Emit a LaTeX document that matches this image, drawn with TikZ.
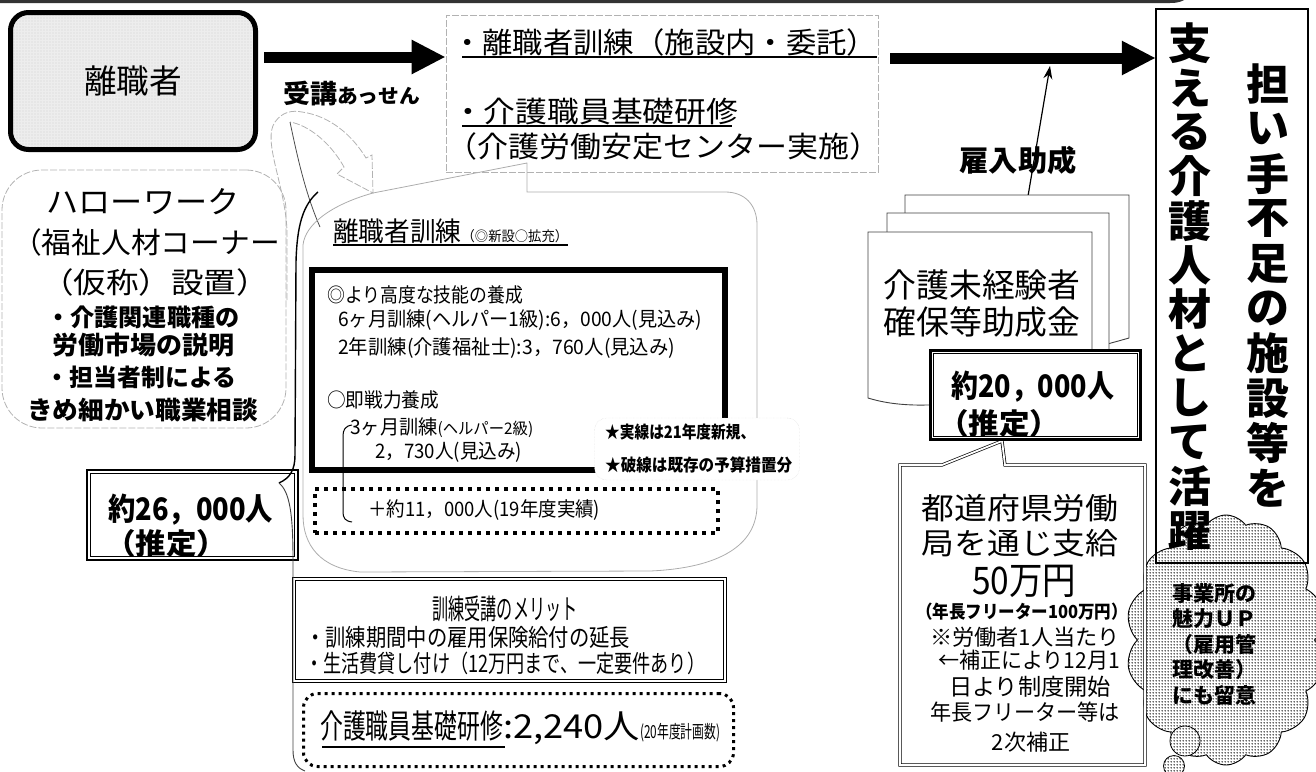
\documentclass[tikz,border=0pt]{standalone}
\usepackage{fontspec}
\usepackage{graphicx}
\newfontfamily\jp{Noto Sans CJK JP}
\usetikzlibrary{patterns,shapes.symbols,arrows.meta,calc}
\pgfdeclarepatternformonly{stip}{\pgfpointorigin}{\pgfpoint{3pt}{3pt}}{\pgfpoint{3pt}{3pt}}{%
  \pgfpathcircle{\pgfpoint{1.5pt}{1.5pt}}{1.0pt}\pgfusepath{fill}}
\pgfdeclarepatternformonly{finestip}{\pgfpointorigin}{\pgfpoint{2.5pt}{2.5pt}}{\pgfpoint{2.5pt}{2.5pt}}{%
  \pgfpathcircle{\pgfpoint{1.25pt}{1.25pt}}{0.45pt}\pgfusepath{fill}}
\newcommand\fitw[2]{\resizebox{#1pt}{\height}{#2}}
\newcommand\fsz[1]{\fontsize{#1pt}{#1pt}\selectfont}
\newcommand\innerframe[2]{\draw[line width=1.1pt] ($(#1.north west)+(#2,#2)$) rectangle ($(#1.south east)+(-#2,-#2)$);}
\newcommand\docshape[5]{\filldraw[fill=white,draw=black!75,line width=0.9pt]
  (#1,#3) -- (#2,#3) -- (#2,#5) .. controls ({#1+0.5*(#2-#1)},{#4+8}) and ({#1+0.2*(#2-#1)},{#4+14}) .. (#1,#4) -- cycle;}
\tikzset{
  jtxt/.style={inner sep=0pt, font=\jp},
  bigarrow/.style={-{Triangle[length=34pt,width=32pt]}, line width=11pt},
  faintline/.style={draw=gray!65, line width=0.8pt},
  dashline/.style={draw=gray!60, line width=0.8pt, dash pattern=on 7pt off 2pt},
  stipple/.style={preaction={fill=white}, pattern=stip, pattern color=black!80},
}
\begin{document}
\begin{tikzpicture}[x=1pt,y=-1pt]
\useasboundingbox (0,0) rectangle (1316,771);

% top border remnant
\draw[line width=3pt, black!80] (0,1.5) -- (1170,1.5) .. controls (1178,1.5) and (1182,0) .. (1186,-3);

% hollow curved arrow and big outline
\draw[dashline] (287,300) -- (287,230) .. controls (285,185) and (262,140) .. (275,122) .. controls (282,112) and (292,110) .. (302,112) .. controls (330,116) and (352,135) .. (366,158) -- (372,155) -- (373,193) -- (337,174) -- (344,167) .. controls (330,142) and (308,125) .. (290,122);
\draw[line width=0.8pt, black!70] (290,122) .. controls (298,160) and (306,195) .. (320,227);

% region of 離職者訓練
\draw[faintline] (373,193) -- (527,163) -- (527,192) -- (725,192) .. controls (745,192) and (757,205) .. (757,225) -- (757,505) .. controls (757,545) and (720,568) .. (650,571) -- (360,572) .. controls (320,568) and (303,545) .. (303,515) -- (303,245) .. controls (305,225) and (330,205) .. (373,193);

% ハローワーク
\node[dashline, rounded corners=40pt, minimum width=284, minimum height=258, inner sep=0pt] (hw) at (144,299) {};
\node[jtxt] (hw1) at (143,202) {\fsz{31}\fitw{193}{ハローワーク}};
\node[jtxt] (hw2) at (146,242) {\fsz{29}\fitw{268}{（福祉人材コーナー}};
\node[jtxt] (hw3) at (155,282) {\fsz{29}\fitw{228}{（仮称）設置）}};
\node[jtxt] (hw4) at (143,317) {\bfseries\fsz{24}\fitw{193}{・介護関連職種の}};
\node[jtxt] (hw5) at (143,345) {\bfseries\fsz{25}\fitw{182}{労働市場の説明}};
\node[jtxt] (hw6) at (141,377) {\bfseries\fsz{24}\fitw{190}{・担当者制による}};
\node[jtxt] (hw7) at (142.5,410) {\bfseries\fsz{25}\fitw{231}{きめ細かい職業相談}};

% top box
\node[dashline, minimum width=432, minimum height=157, inner sep=0pt] (topbox) at (662,93.5) {};
\node[jtxt, anchor=west] (tb1) at (452,42) {\fsz{29}\fitw{425}{・離職者訓練（施設内・委託）}};
\node[jtxt, anchor=west] (tb2) at (452,112) {\fsz{29}\fitw{286}{・介護職員基礎研修}};
\node[jtxt, anchor=west] (tb3) at (446,146) {\fsz{29}\fitw{434}{（介護労働安定センター実施）}};
\draw[line width=1.3pt] (462,57) -- (877,57);
\draw[line width=1.3pt] (462,126) -- (732,126);

% 離職者
\node[jtxt, draw, line width=5pt, rounded corners=18pt, preaction={fill=gray!14}, pattern=finestip, pattern color=gray!75, minimum width=245, minimum height=137] (rishoku) at (133,81) {\fsz{33}\fitw{98}{離職者}};
\coordinate (a1) at (264,57);
\draw[bigarrow] (a1) -- (a1 -| topbox.west);
\node[jtxt, anchor=west] (jukou) at (283,94) {\bfseries\fitw{137}{\fsz{26}受講\fsz{20}あっせん}};

% heading and thick box
\node[jtxt, anchor=west] (head) at (333,231) {\fitw{235}{\fsz{27}離職者訓練\fsz{14}（◎新設○拡充）}};
\draw[line width=1.2pt] (333,245) -- (568,245);
\node[draw, line width=6pt, minimum width=413, minimum height=200, inner sep=0pt] (thick) at (518.5,370) {};
\node[jtxt, anchor=west] (k1) at (327,295) {\fsz{20}\fitw{196}{◎より高度な技能の養成}};
\node[jtxt, anchor=west] (k2) at (338,320) {\fsz{20}\fitw{364}{6ヶ月訓練(ヘルパー1級):6，000人(見込み)}};
\node[jtxt, anchor=west] (k3) at (338,348) {\fsz{20}\fitw{337}{2年訓練(介護福祉士):3，760人(見込み)}};
\node[jtxt, anchor=west] (k4) at (327,400) {\fsz{20}\fitw{112}{○即戦力養成}};
\node[jtxt, anchor=west] (k5) at (350,428) {\fitw{183}{\fsz{20}3ヶ月訓練\fsz{16}(ヘルパー2級)}};
\node[jtxt, anchor=west] (k6) at (375,452) {\fsz{20}\fitw{147}{2，730人(見込み)}};
\node[fill=white, draw=gray!35, densely dotted, rounded corners=12pt, minimum width=205, minimum height=62, inner sep=0pt] (note) at (697,449) {};
\node[jtxt, anchor=west] (n1) at (605,432) {\bfseries\fsz{17}\fitw{150}{★実線は21年度新規、}};
\node[jtxt, anchor=west] (n2) at (605,465) {\bfseries\fsz{17}\fitw{187}{★破線は既存の予算措置分}};
\node[draw, line width=4pt, dash pattern=on 4pt off 5pt, minimum width=403, minimum height=44, inner sep=0pt] (dot11) at (516.5,511) {};
\node[jtxt, anchor=west] (k7) at (368,510) {\fsz{20}\fitw{232}{＋約11，000人(19年度実績)}};
\draw[line width=1pt] (352,425) .. controls (345,426) and (343,430) .. (343,436) -- (343,512) .. controls (343,518) and (345,521) .. (352,522);

% merit box
\node[draw, line width=0.9pt, double, double distance=2pt, minimum width=431, minimum height=102, inner sep=0pt] (merit) at (509.5,630) {};
\node[jtxt] (m1) at (505,609) {\fsz{28}\fitw{145}{訓練受講のメリット}};
\node[jtxt, anchor=west] (m2) at (305,637) {\fsz{24}\fitw{325}{・訓練期間中の雇用保険給付の延長}};
\node[jtxt, anchor=west] (m3) at (305,663) {\fsz{24}\fitw{400}{・生活費貸し付け（12万円まで、一定要件あり）}};

% kiso box
\node[draw, line width=3pt, dash pattern=on 3pt off 4pt, rounded corners=14pt, minimum width=430, minimum height=73, inner sep=0pt] (kiso) at (518.5,730) {};
\node[jtxt, anchor=west] (ks) at (320,728) {\fitw{183}{\fsz{33}介護職員基礎研修}\fitw{137}{\fsz{33}:2,240人}\fitw{80}{\fsz{18}(20年度計画数)}};
\draw[line width=1.2pt] (322,747) -- (505,747);

% 26,000 box
\node[draw, line width=2.4pt, fill=white, minimum width=211, minimum height=90, inner sep=0pt] (b26) at (192.5,515) {};
\innerframe{b26}{4.5}
\node[jtxt, anchor=west] (t26a) at (108,510) {\bfseries\fsz{31}\fitw{165}{約26，000人}};
\node[jtxt, anchor=west] (t26b) at (105,543) {\bfseries\fsz{29}\fitw{122}{（推定）}};
\draw[line width=1.4pt] (318,192) .. controls (303,205) and (297,225) .. (296,262) -- (295,455) .. controls (295,470) and (290,478) .. (279,483);
\draw[line width=0.9pt, black!75] (279,483) .. controls (290,492) and (293,515) .. (293,560) -- (293,750) .. controls (293,762) and (297,768) .. (305,771);

% right column box and arrow
\node[minimum width=152, minimum height=554, inner sep=0pt] (rightbox) at (1232,286) {};
\coordinate (a2) at (890,58);
\draw[bigarrow] (a2) -- (a2 -| rightbox.west);
\node[jtxt] (koyo) at (1018,160) {\bfseries\fsz{29}\fitw{117}{雇入助成}};
\coordinate (docTop) at (1028,196);
\coordinate (shaftPt) at (1050,66);
\draw[-{Stealth[length=13pt,width=9pt]}, line width=1.2pt] (docTop) -- (shaftPt);

% documents
\docshape{905}{1129}{195}{362}{338}
\docshape{887}{1109}{213}{380}{357}
\docshape{868}{1092}{232}{398}{373}
\node[jtxt] (d1) at (982,285) {\fsz{33}\fitw{197}{介護未経験者}};
\node[jtxt] (d2) at (982,322) {\fsz{33}\fitw{197}{確保等助成金}};

% callout 都道府県
\fill[white] (900,465) -- (942,465) -- (1002,441) -- (1005,465) -- (1145,465) -- (1145,765) -- (900,765) -- cycle;
\node[cloud, cloud puffs=14, cloud puff arc=110, draw, line width=0.9pt, stipple, minimum width=200, minimum height=250, inner sep=0pt] (cloud) at (1226,640) {};
\node[circle, draw, line width=0.8pt, stipple, minimum size=30, inner sep=0pt] (c1) at (1185,741) {};
\node[circle, draw, line width=0.8pt, stipple, minimum size=21, inner sep=0pt] (c2) at (1174,766) {};
\draw[line width=0.7pt, double, double distance=1.8pt] (900,465) -- (942,465) -- (1002,441) -- (1005,465) -- (1145,465) -- (1145,765) -- (900,765) -- cycle;
\node[jtxt] (p1) at (1020,508) {\fsz{30}\fitw{197}{都道府県労働}};
\node[jtxt] (p2) at (1020,543) {\fsz{30}\fitw{197}{局を通じ支給}};
\node[jtxt] (p3) at (1024,581) {\fsz{38}\fitw{104}{50万円}};
\node[jtxt] (p4) at (1022,612) {\bfseries\fsz{18}\fitw{212}{（年長フリーター100万円）}};
\node[jtxt] (p5) at (1025,637) {\fsz{22}\fitw{190}{※労働者1人当たり}};
\node[jtxt] (p6) at (1029,660) {\fsz{22}\fitw{182}{←補正により12月1}};
\node[jtxt] (p7) at (1030,687) {\fsz{23}\fitw{162}{日より制度開始}};
\node[jtxt] (p8) at (1025,712) {\fsz{22}\fitw{190}{年長フリーター等は}};
\node[jtxt] (p9) at (1031,742) {\fsz{22}2次補正};

% 20,000 box
\node[draw, line width=2.4pt, fill=white, minimum width=210, minimum height=89, inner sep=0pt] (b20) at (1035.5,395) {};
\innerframe{b20}{4.5}
\node[jtxt, anchor=west] (t20a) at (951,387) {\bfseries\fsz{31}\fitw{163}{約20，000人}};
\node[jtxt, anchor=west] (t20b) at (938,423) {\bfseries\fsz{29}\fitw{122}{（推定）}};

% right box border and vertical text
\draw[line width=1.8pt] (rightbox.north west) rectangle (rightbox.south east);
\foreach \c [count=\i] in {支,え,る,介,護,人,材,と,し,て,活,躍}
  \node[jtxt] (L\i) at (1190,{43.5+44.3*(\i-1)}) {\bfseries\fsz{43}\c};
\foreach \c [count=\i] in {担,い,手,不,足,の,施,設,等,を}
  \node[jtxt] (R\i) at (1268,{84+44.9*(\i-1)}) {\bfseries\fsz{43}\c};
\node[inner sep=0pt, align=center, font={\jp\bfseries\fontsize{21pt}{25.5pt}\selectfont}] (cloudtxt) at (1214,644) {事業所の\\魅力ＵＰ\\（雇用管\\理改善）\\にも留意};

\end{tikzpicture}
\end{document}
